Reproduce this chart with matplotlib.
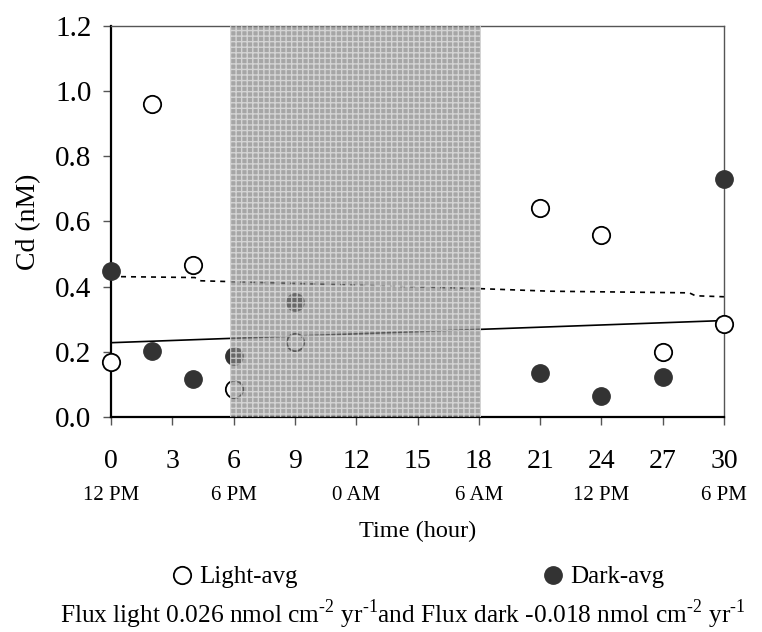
import matplotlib
matplotlib.use('Agg')
import matplotlib.pyplot as plt
from matplotlib.lines import Line2D

# data
hours = [0, 2, 4, 6, 9, 21, 24, 27, 30]
light_avg = [0.17, 0.96, 0.465, 0.087, 0.23, 0.64, 0.558, 0.199, 0.284]
dark_avg = [0.449, 0.203, 0.118, 0.187, 0.352, 0.135, 0.064, 0.123, 0.730]

# trend lines (end points / kinks)
light_fit_x = [0, 30]
light_fit_y = [0.228, 0.296]
dark_fit_x = [0, 4.1, 4.4, 18, 21.5, 28.3, 28.6, 30]
dark_fit_y = [0.431, 0.428, 0.418, 0.394, 0.386, 0.381, 0.372, 0.369]

night_start = 5.8
night_end = 18.1

xticks = list(range(0, 31, 3))
clock_pos = [0, 6, 12, 18, 24, 30]
clock_labels = ['12 PM', '6 PM', '0 AM', '6 AM', '12 PM', '6 PM']

plt.rcParams['font.family'] = ['Liberation Serif', 'DejaVu Serif']
plt.rcParams['mathtext.fontset'] = 'custom'
plt.rcParams['mathtext.rm'] = 'Liberation Serif'

fig = plt.figure(figsize=(7.62, 6.32), dpi=100)
ax = fig.add_axes([0.1457, 0.3402, 0.8045, 0.6187])

ax.plot(light_fit_x, light_fit_y, color='black', lw=1.2, zorder=2)
ax.plot(dark_fit_x, dark_fit_y, color='black', lw=1.2, ls=(0, (3, 3)), zorder=2)

ax.plot(hours, light_avg, 'o', ms=12.5, mfc='white', mec='black', mew=1.3,
        ls='none', clip_on=False, zorder=3)
ax.plot(hours, dark_avg, 'o', ms=12.5, mfc='#333333', mec='#333333',
        ls='none', clip_on=False, zorder=3)

# night shading drawn over the markers
ax.axvspan(night_start, night_end, facecolor='#808080', edgecolor='#e8e8e8',
           hatch='+++', lw=0, alpha=0.7, zorder=4)

ax.set_xlim(0, 30)
ax.set_ylim(0, 1.2)
ax.set_xticks(xticks)
ax.set_yticks([0, 0.2, 0.4, 0.6, 0.8, 1.0, 1.2])
ax.set_yticklabels(['0.0', '0.2', '0.4', '0.6', '0.8', '1.0', '1.2'])
ax.tick_params(axis='x', direction='out', length=6, width=1, color='#555555',
               pad=17, labelsize=20)
ax.tick_params(axis='y', direction='out', length=6, width=1, color='#555555',
               pad=8, labelsize=21)

for s in ['left', 'bottom']:
    ax.spines[s].set_linewidth(1.6)
    ax.spines[s].set_color('black')
for s in ['top', 'right']:
    ax.spines[s].set_linewidth(1)
    ax.spines[s].set_color('#555555')

ax.set_ylabel('Cd (nM)', fontsize=20, labelpad=10)

for p, lab in zip(clock_pos, clock_labels):
    ax.annotate(lab, xy=(p, -0.2), xycoords=('data', 'axes fraction'),
                ha='center', va='center', fontsize=15, annotation_clip=False)
ax.text(0.5, -0.293, 'Time (hour)', transform=ax.transAxes,
        ha='center', va='center', fontsize=17.5)

handles = [
    Line2D([], [], marker='o', ls='none', ms=12.5, mfc='white', mec='black', mew=1.3),
    Line2D([], [], marker='o', ls='none', ms=12.5, mfc='#333333', mec='#333333'),
]
fig.legend(handles, ['Light-avg', 'Dark-avg'], loc='center',
           bbox_to_anchor=(0.549, 0.087), ncol=2, frameon=False, fontsize=18,
           handlelength=0.8, handletextpad=0.3, columnspacing=9.8)

fig.text(0.529, 0.028,
         'Flux light 0.026 nmol cm$^{\\mathregular{\u20102}}$ yr$^{\\mathregular{\u20101}}$'
         'and Flux dark -0.018 nmol cm$^{\\mathregular{\u20102}}$ yr$^{\\mathregular{\u20101}}$',
         ha='center', va='center', fontsize=18.3)

fig.savefig('out.png', dpi=100)
